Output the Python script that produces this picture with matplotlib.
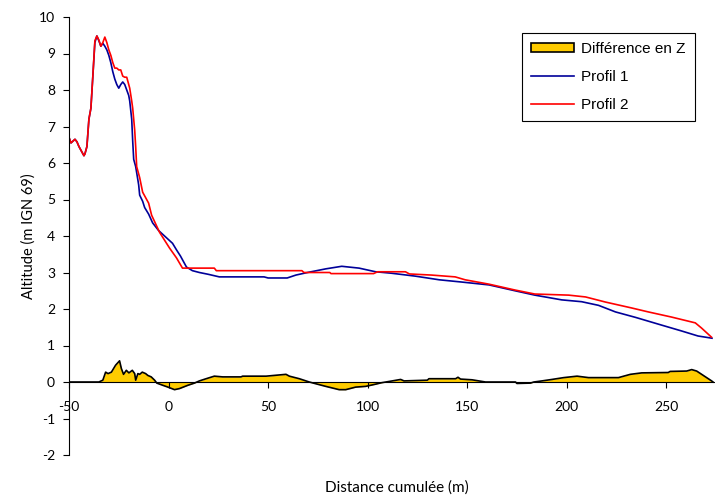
import matplotlib

matplotlib.use("Agg")
import matplotlib.pyplot as plt
from matplotlib.lines import Line2D
from matplotlib.patches import Patch

# Profil 1 (blue)
p1_x = [-50, -49, -48, -47, -46, -45, -44, -43, -42.5, -42, -41, -40, -39, -38,
        -37, -36, -35, -34, -33, -32, -31, -30, -29, -28, -27, -26, -25, -24,
        -23, -22, -21, -20, -19.5, -18.5, -18, -17.5, -16.5, -15, -14.5, -13,
        -12, -10, -8, -5, -1, 2, 4, 6, 8, 9, 12, 15.5, 20, 25.5, 48, 50, 59.6,
        64, 70.7, 79, 87, 95.7, 104, 112, 124, 136, 147, 161, 174, 184, 197.5,
        207.5, 216, 224.5, 234.6, 247.6, 257.6, 266, 273]
p1_z = [6.7, 6.55, 6.6, 6.65, 6.58, 6.45, 6.35, 6.25, 6.2, 6.25, 6.45, 7.2, 7.5,
        8.4, 9.3, 9.48, 9.35, 9.2, 9.28, 9.2, 9.1, 8.95, 8.75, 8.5, 8.3, 8.15,
        8.05, 8.15, 8.22, 8.15, 8.0, 7.85, 7.7, 7.2, 6.6, 6.1, 5.9, 5.4, 5.12,
        4.95, 4.78, 4.6, 4.36, 4.15, 3.95, 3.8, 3.62, 3.45, 3.25, 3.15, 3.05,
        3.0, 2.95, 2.88, 2.88, 2.85, 2.85, 2.93, 3.01, 3.1, 3.17, 3.12, 3.02,
        2.98, 2.9, 2.8, 2.74, 2.66, 2.5, 2.38, 2.25, 2.2, 2.1, 1.92, 1.77, 1.56,
        1.4, 1.26, 1.2]

# Profil 2 (red)
p2_x = [-50, -49, -48, -47, -46, -45, -44, -43, -42.5, -42, -41, -40, -39, -38,
        -37, -36, -35, -34, -33, -32, -31, -30, -29, -28, -27, -26, -25, -24,
        -23, -22, -21, -20, -19.5, -18.5, -18, -17, -16.5, -16, -14.5, -13,
        -10, -8.5, -4.5, 0.5, 4, 7, 23, 24, 67, 68, 81, 81.6, 103, 105, 119,
        121, 132, 144, 149, 161, 174, 184, 201, 209.5, 219.5, 232.5, 241, 252.6,
        264.6, 267.7, 272.7]
p2_z = [6.7, 6.55, 6.6, 6.65, 6.58, 6.45, 6.35, 6.25, 6.2, 6.25, 6.45, 7.2, 7.5,
        8.4, 9.35, 9.48, 9.37, 9.2, 9.3, 9.45, 9.3, 9.1, 8.95, 8.75, 8.6, 8.6,
        8.55, 8.55, 8.38, 8.35, 8.35, 8.15, 8.05, 7.7, 7.5, 6.9, 6.44, 5.9, 5.6,
        5.2, 4.9, 4.57, 4.1, 3.67, 3.4, 3.12, 3.12, 3.05, 3.05, 3.0, 3.0, 2.97,
        2.97, 3.02, 3.02, 2.96, 2.93, 2.88, 2.8, 2.68, 2.52, 2.41, 2.38, 2.33,
        2.19, 2.03, 1.92, 1.78, 1.62, 1.48, 1.23]

# Différence en Z
dz_x = [-50, -35, -33, -31.6, -30.4, -28.7, -26.6, -24.6, -23.7, -22.6, -21.2,
        -19.9, -18.2, -17, -16.5, -15.4, -14.5, -13.2, -11.5, -10.4, -8.7, -7,
        -5.9, -2.9, -0.3, 3, 5.5, 9.7, 13, 15.5, 18.9, 23, 27.2, 36.4, 37.2, 49,
        59, 60.7, 65.7, 70.7, 74.8, 79, 85.7, 89, 94, 99, 104, 107, 112.4, 116.6,
        118.3, 130, 130.8, 144.2, 145.4, 146.7, 152.5, 159.2, 174.3, 175, 181.8,
        183.5, 187.6, 192.6, 198.5, 205.2, 211, 226, 232, 237.7, 251, 252, 260.3,
        262.8, 265.3, 272.8, 273.5]
dz_z = [0, 0, 0.05, 0.27, 0.23, 0.27, 0.46, 0.58, 0.37, 0.21, 0.32, 0.25, 0.32,
        0.23, 0.05, 0.23, 0.21, 0.27, 0.23, 0.18, 0.14, 0.05, -0.03, -0.09,
        -0.14, -0.21, -0.18, -0.09, -0.03, 0.03, 0.09, 0.16, 0.14, 0.14, 0.16,
        0.16, 0.21, 0.16, 0.09, 0, -0.06, -0.12, -0.21, -0.21, -0.14, -0.12,
        -0.06, -0.02, 0.03, 0.07, 0.03, 0.05, 0.09, 0.09, 0.13, 0.08, 0.06, 0,
        0, -0.04, -0.03, 0, 0.03, 0.07, 0.12, 0.16, 0.12, 0.12, 0.21, 0.25, 0.26,
        0.29, 0.3, 0.34, 0.3, 0.03, 0]

x_ticks = [-50, 0, 50, 100, 150, 200, 250]
y_ticks = list(range(-2, 11))

YELLOW = "#FFCC00"
BLUE = "#000099"
RED = "#FF0000"

plt.rcParams["font.family"] = ["Lato", "DejaVu Sans"]
plt.rcParams["axes.unicode_minus"] = False

fig = plt.figure(figsize=(7.15, 5.0), dpi=100)
ax = fig.add_axes([69 / 715, 45 / 500, 645 / 715, 438 / 500])

ax.fill_between(dz_x, dz_z, 0, color=YELLOW, lw=0)
ax.plot(dz_x, dz_z, color="black", lw=1.2)
ax.plot(p1_x, p1_z, color=BLUE, lw=1.2)
ax.plot(p2_x, p2_z, color=RED, lw=1.2)

ax.set_xlim(-50, 274)
ax.set_ylim(-2, 10)
ax.set_xticks(x_ticks)
ax.set_yticks(y_ticks)
ax.spines["top"].set_visible(False)
ax.spines["right"].set_visible(False)
ax.spines["bottom"].set_position(("data", 0))
ax.tick_params(labelsize=10, length=4, width=0.8, direction="out")
ax.tick_params(axis="y", pad=6)
ax.tick_params(axis="x", pad=10)
ax.set_xlabel("Distance cumulée (m)", fontsize=11)
ax.xaxis.set_label_coords(0.508, -0.058)
ax.set_ylabel("Altitude (m IGN 69)", fontsize=10.5, labelpad=2)

handles = [
    Patch(facecolor=YELLOW, edgecolor="black", lw=1.2),
    Line2D([], [], color=BLUE, lw=1.2),
    Line2D([], [], color=RED, lw=1.2),
]
leg = ax.legend(handles, ["Différence en Z", "Profil 1", "Profil 2"],
                loc="upper right", bbox_to_anchor=(0.9705, 0.9635),
                borderaxespad=0, prop={"family": "Liberation Sans", "size": 11},
                fancybox=False, edgecolor="black", framealpha=1,
                handlelength=2.8, handleheight=0.5, borderpad=0.6,
                labelspacing=0.9, handletextpad=0.5)
leg.get_frame().set_linewidth(0.8)

fig.savefig("out.png", dpi=100)
